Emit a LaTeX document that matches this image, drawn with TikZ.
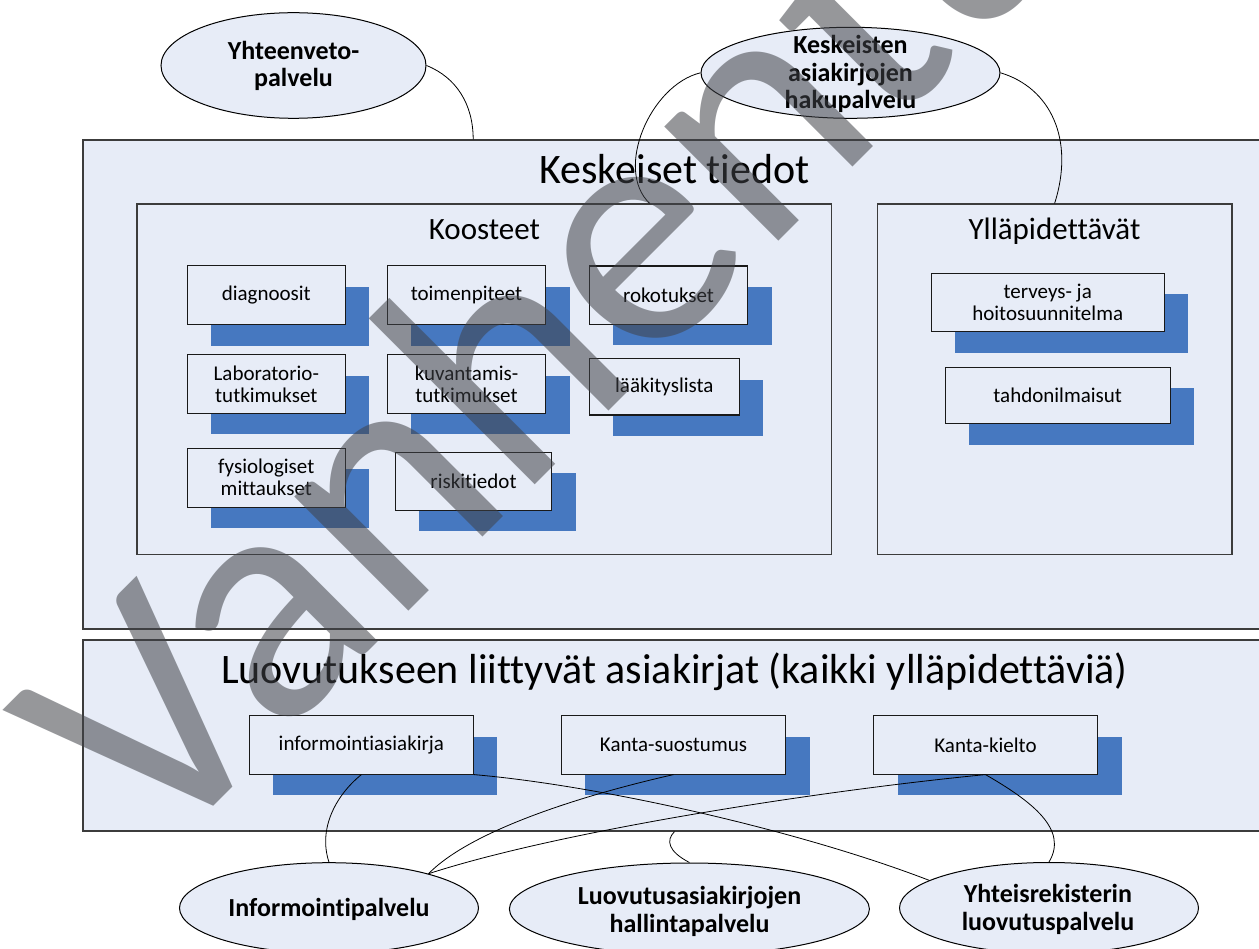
\documentclass[tikz,border=0pt]{standalone}
\usepackage{fontspec}
\setmainfont{Carlito}[Ligatures=NoCommon]
\usetikzlibrary{shapes.geometric,shadows,calc}

\definecolor{panel}{RGB}{231,236,247}
\definecolor{shadowblue}{RGB}{70,120,192}
\definecolor{wmgrey}{RGB}{64,66,72}
\definecolor{frame}{RGB}{60,60,60}

\tikzset{
  panelbox/.style={rectangle, draw=frame, line width=1.2pt, fill=panel, inner sep=0pt},
  itembox/.style={rectangle, draw=black!90, line width=1.1pt, fill=panel, inner sep=2pt,
    align=center, font=\fontsize{21}{22}\selectfont,
    drop shadow={shadow xshift=24pt, shadow yshift=-21pt, fill=shadowblue, opacity=1, draw=none}},
  service/.style={ellipse, draw=black, line width=1pt, fill=panel, inner sep=0pt},
  svctext/.style={font=\bfseries\fontsize{26}{27.5}\selectfont, align=center, inner sep=0pt},
  bigtitle/.style={font=\fontsize{42}{48}\selectfont, inner sep=0pt, anchor=base},
  subtitle/.style={font=\fontsize{31}{36}\selectfont, inner sep=0pt, anchor=base},
  link/.style={draw=black, line width=0.8pt},
  wm/.style={font=\fontsize{338}{338}\selectfont, text=wmgrey, opacity=0.55, inner sep=0pt},
}

\begin{document}
\begin{tikzpicture}[x=1pt, y=-1pt]
\useasboundingbox (0,0) rectangle (1259,949);
\clip (0,0) rectangle (1259,949);
\fill[white] (0,0) rectangle (1259,949);

% main panels
\node[panelbox, minimum width=1183pt, minimum height=489pt] (kt) at (674.5,384.5) {};
\node[bigtitle] (kttitle) at (674.5,184) {Keskeiset tiedot};
\node[panelbox, minimum width=1183pt, minimum height=191pt] (lv) at (674.5,735.5) {};
\node[bigtitle] (lvtitle) at (674.5,683) {Luovutukseen liittyvät asiakirjat (kaikki ylläpidettäviä)};

% sub panels
\node[panelbox, minimum width=694.7pt, minimum height=350.5pt] (koo) at (484.3,379.2) {};
\node[subtitle] (kootitle) at (484.5,240) {Koosteet};
\node[panelbox, minimum width=354.7pt, minimum height=350.3pt] (yp) at (1054.6,379.2) {};
\node[subtitle] (yptitle) at (1054.5,240) {Ylläpidettävät};

% summaries
\node[itembox, minimum width=158pt, minimum height=58.7pt] (dg) at (266.3,295.3) {diagnoosit};
\node[itembox, minimum width=158.4pt, minimum height=58.7pt] (tp) at (466.5,295.3) {toimenpiteet};
\node[itembox, minimum width=158.4pt, minimum height=58.3pt] (rk) at (668.5,295.2) {rokotukset};
\node[itembox, minimum width=158pt, minimum height=58.6pt] (lab) at (266.3,384) {Laboratorio-\\tutkimukset};
\node[itembox, minimum width=158.4pt, minimum height=58.6pt] (kuv) at (466.5,384) {kuvantamis-\\tutkimukset};
\node[itembox, minimum width=150pt, minimum height=56.3pt] (laa) at (664.3,386.9) {lääkityslista};
\node[itembox, minimum width=158pt, minimum height=58.7pt] (fys) at (266.3,477.7) {fysiologiset\\mittaukset};
\node[itembox, minimum width=156.4pt, minimum height=58pt] (ris) at (473.5,481.3) {riskitiedot};

% maintained documents
\node[itembox, minimum width=232.7pt, minimum height=58.4pt] (ths) at (1047.7,302.5) {terveys- ja\\hoitosuunnitelma};
\node[itembox, minimum width=224.7pt, minimum height=56.4pt] (tah) at (1057.7,395.5) {tahdonilmaisut};

% disclosure documents
\node[itembox, minimum width=224pt, minimum height=58.3pt] (ia) at (361.4,744.9) {informointiasiakirja};
\node[itembox, minimum width=224.4pt, minimum height=58.3pt] (ks) at (673.5,744.9) {Kanta-suostumus};
\node[itembox, minimum width=224pt, minimum height=58.3pt] (kk) at (985.5,744.9) {Kanta-kielto};

% services
\node[service, minimum width=265pt, minimum height=105.6pt] (yht) at (293.5,65.5) {};
\node[svctext] (yhtt) at (293.5,66) {Yhteenveto-\\palvelu};
\node[service, minimum width=299pt, minimum height=91pt] (kesk) at (850.5,72.8) {};
\node[svctext] (keskt) at (850.5,74) {Keskeisten\\asiakirjojen\\hakupalvelu};
\node[service, minimum width=299pt, minimum height=90.6pt] (info) at (329,908) {};
\node[svctext] (infot) at (329,909.5) {Informointipalvelu};
\node[service, minimum width=360pt, minimum height=92pt] (lh) at (689.4,909) {};
\node[svctext] (lht) at (689.5,911.5) {Luovutusasiakirjojen\\hallintapalvelu};
\node[service, minimum width=299pt, minimum height=91pt] (yr) at (1049,908) {};
\node[svctext] (yrt) at (1048,909.5) {Yhteisrekisterin\\luovutuspalvelu};

% connectors
\draw[link] (yht.east) .. controls +(30,12) and +(0,-35) .. ($(kt.north west)!0.33!(kt.north east)$);
\draw[link] (kesk.west) .. controls +(-50,12) and +(-35.6,-34) .. ($(koo.north west)!0.7375!(koo.north east)$);
\draw[link] (kesk.east) .. controls +(50,15) and +(20.4,-64) .. (yp.north);
\draw[link] (ia.south) .. controls +(-26,21) and +(-11,-33) .. (info.north);
\draw[link] (ia.south east) .. controls +(127,11) and +(-130,-50) .. (yr.167);
\draw[link] (ks.south) .. controls +(-93,21) and +(42,-43) .. (info.19.5);
\draw[link] (kk.south) .. controls +(-165,16) and +(132,-43) .. (info.19.5);
\draw[link] (lh.north) .. controls +(-21,-11) and +(-9,9) .. (lv.south);
\draw[link] (kk.south) .. controls +(45,26) and +(20,-33) .. (yr.north);

% watermark
\node[wm, rotate=45, anchor=base west] (stamp) at (155.7,864.3) {Vanhentunut};
\end{tikzpicture}
\end{document}
